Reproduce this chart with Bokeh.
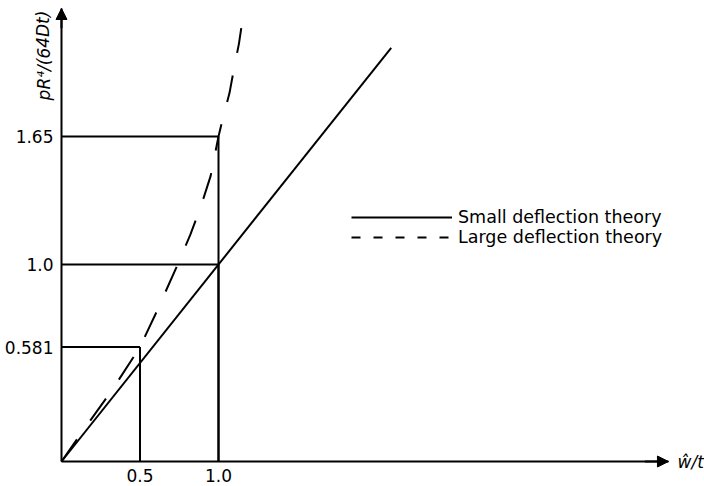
from bokeh.plotting import figure
from bokeh.models import (Range1d, FixedTicker, Arrow, NormalHead, Label,
                          Legend, LegendItem)
from bokeh.embed import file_html
from bokeh.resources import INLINE

# ---- data ----
x_ticks = [0.5, 1.0]
x_tick_labels = ["0.5", "1.0"]
y_ticks = [0.581, 1.0, 1.65]
y_tick_labels = ["0.581", "1.0", "1.65"]

small_w = [0.0, 2.1]
small_p = [0.0, 2.1]

large_w = [0.0, 0.14, 0.32, 0.5, 0.6, 0.74, 0.82, 0.89, 0.95, 1.0, 1.03, 1.07, 1.10, 1.13, 1.145]
large_p = [0.0, 0.16, 0.36, 0.581, 0.75, 1.0, 1.15, 1.3, 1.45, 1.65, 1.75, 1.87, 2.0, 2.12, 2.2]

# reference guide points (w/t, p)
guide_w = [0.5, 1.0, 1.0]
guide_p = [0.581, 1.0, 1.65]

# ---- layout ----
W, H = 704, 486
OX, OY = 61, 461          # origin in pixels
SX, SY = 157.0, 197.0     # pixels per unit
X_END = 3.866             # end of x axis (arrow tip)
Y_END = 2.2995            # end of y axis (arrow tip)

p = figure(width=W, height=H, output_backend="svg", toolbar_location=None,
           x_range=Range1d(-OX / SX, (W - OX) / SX),
           y_range=Range1d(-(H - OY) / SY, OY / SY),
           min_border_left=0, min_border_right=0, min_border_top=0,
           min_border_bottom=0)
p.outline_line_color = None
p.xgrid.visible = False
p.ygrid.visible = False
p.background_fill_color = "white"

for ax, ticks, labels, bnd in ((p.xaxis[0], x_ticks, x_tick_labels, (0, X_END)),
                               (p.yaxis[0], y_ticks, y_tick_labels, (0, Y_END))):
    ax.ticker = FixedTicker(ticks=ticks)
    ax.major_label_overrides = {t: l for t, l in zip(ticks, labels)}
    ax.fixed_location = 0
    ax.bounds = bnd
    ax.major_tick_in = 0
    ax.major_tick_out = 0
    ax.minor_tick_in = 0
    ax.minor_tick_out = 0
    ax.axis_line_width = 2
    ax.axis_line_color = "black"
    ax.major_label_text_font = "DejaVu Sans"
    ax.major_label_text_font_size = "17px"
    ax.major_label_text_color = "black"
p.xaxis[0].major_label_standoff = 7
p.yaxis[0].major_label_standoff = 8

# guide lines: horizontal from y-axis, vertical from x-axis
p.segment(x0=[0] * len(guide_w), y0=guide_p, x1=guide_w, y1=guide_p,
          line_color="black", line_width=2)
p.segment(x0=guide_w, y0=[0] * len(guide_w), x1=guide_w, y1=guide_p,
          line_color="black", line_width=2)

r_small = p.line(small_w, small_p, line_color="black", line_width=2)
r_large = p.line(large_w, large_p, line_color="black", line_width=2,
                 line_dash="27 23")

# zero-length renderer only used for the legend's short-dash sample
lg_large = p.line([0, 0], [0, 0], line_color="black", line_width=2,
                  line_dash="9 13")

legend_style = dict(glyph_width=101, glyph_height=14, label_height=14,
                    label_standoff=6, spacing=0, padding=0, margin=0,
                    border_line_color=None, background_fill_alpha=0,
                    label_text_font="DejaVu Sans", label_text_font_size="17.5px",
                    label_text_color="black")
legend1 = Legend(items=[LegendItem(label="Small deflection theory", renderers=[r_small])],
                 location=(351, H - 227), **legend_style)
legend2 = Legend(items=[LegendItem(label="Large deflection theory", renderers=[lg_large])],
                 location=(351, H - 247), **legend_style)
p.add_layout(legend1, "center")
p.add_layout(legend2, "center")

# axis arrows
p.add_layout(Arrow(end=NormalHead(size=11, fill_color="black", line_color="black"),
                   x_start=0, y_start=Y_END - 0.1, x_end=0, y_end=Y_END,
                   line_width=2, line_color="black"))
p.add_layout(Arrow(end=NormalHead(size=11, fill_color="black", line_color="black"),
                   x_start=X_END - 0.15, y_start=0, x_end=X_END, y_end=0,
                   line_width=2, line_color="black"))

# axis titles
p.add_layout(Label(x=(43 - OX) / SX, y=(OY - 55) / SY, text="pR⁴/(64Dt)", angle=1.5708,
                   text_align="center", text_baseline="middle",
                   text_font="DejaVu Sans", text_font_size="17px",
                   text_font_style="italic", text_color="black"))
p.add_layout(Label(x=(677 - OX) / SX, y=0, text="ŵ/t", text_align="left",
                   text_baseline="middle", text_font="DejaVu Sans",
                   text_font_size="17px", text_font_style="italic",
                   text_color="black"))

open("out.html", "w").write(file_html(p, INLINE))
